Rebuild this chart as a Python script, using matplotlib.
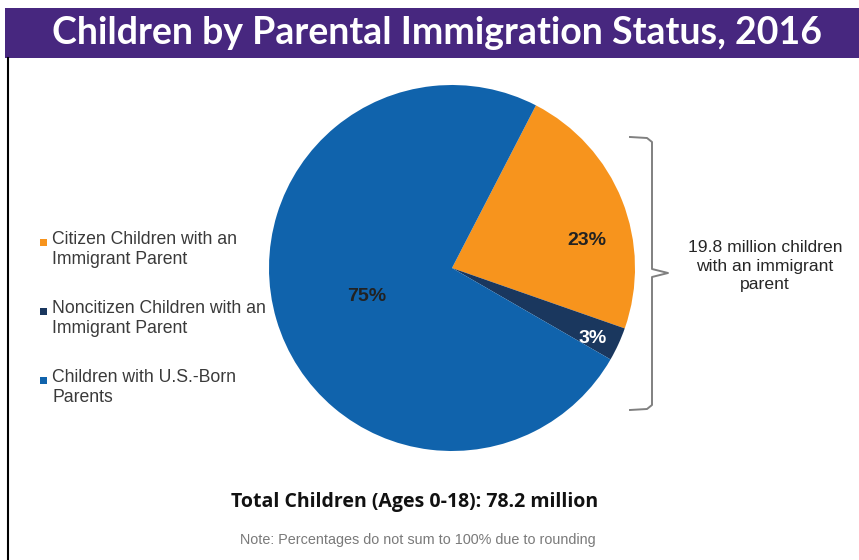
import matplotlib.pyplot as plt
from matplotlib.patches import Rectangle
from matplotlib.lines import Line2D
import numpy as np

# data
labels = ["Citizen Children with an\nImmigrant Parent",
          "Noncitizen Children with an\nImmigrant Parent",
          "Children with U.S.-Born\nParents"]
shares = [23, 3, 75]
colors = ["#F7941D", "#1A375E", "#1063AC"]
pct_colors = ["#222222", "white", "#222222"]

title = "Children by Parental Immigration Status, 2016"
bracket_note = "19.8 million children\nwith an immigrant\nparent"
total_note = "Total Children (Ages 0-18): 78.2 million"
foot_note = "Note: Percentages do not sum to 100% due to rounding"

W, H = 859, 560


def fx(x):
    return x / W


def fy(y):
    return 1 - y / H


fig = plt.figure(figsize=(W / 100, H / 100), dpi=100)
fig.patch.set_facecolor("white")

# title bar
fig.patches.append(Rectangle((fx(5), fy(58)), 1, 50 / H, transform=fig.transFigure,
                             facecolor="#47277F", edgecolor="none"))
fig.text(fx(437), fy(33), title, color="white", fontsize=27, fontweight="bold",
         family="Lato", ha="center", va="center")
# left frame line
fig.add_artist(Line2D([fx(8), fx(8)], [fy(58), 0], transform=fig.transFigure,
                      color="black", lw=1.5))

# pie
cx, cy, r = 452, 268, 183
ax = fig.add_axes([fx(cx - r), fy(cy + r), 2 * r / W, 2 * r / H])
wedges, _ = ax.pie(shares, colors=colors, startangle=62.7, counterclock=False,
                   radius=1.0, wedgeprops=dict(linewidth=0))
ax.set_xlim(-1, 1)
ax.set_ylim(-1, 1)
ax.set_aspect("auto")
ax.axis("off")

pct_r = [0.75, 0.86, 0.49]
pct_shift = [-10, -2, 2]
for w, v, c, pr, sh in zip(wedges, shares, pct_colors, pct_r, pct_shift):
    ang = np.deg2rad((w.theta1 + w.theta2) / 2 + sh)
    ax.text(pr * np.cos(ang), pr * np.sin(ang), f"{v}%", color=c, fontsize=14,
            fontweight="bold", family="Liberation Sans", ha="center", va="center")

# legend, drawn by hand
leg_y = [242, 311, 380]
for lab, c, y in zip(labels, colors, leg_y):
    fig.patches.append(Rectangle((fx(40), fy(y + 4)), 7 / W, 7 / H,
                                 transform=fig.transFigure, facecolor=c,
                                 edgecolor="none"))
    fig.text(fx(52), fy(y - 11), lab, color="#3A3A3A", fontsize=12.7,
             family="Liberation Sans", ha="left", va="top", linespacing=1.25)

# bracket
bx = [630, 647, 652, 652, 668, 652, 652, 647, 630]
by = [137, 138, 142, 269, 273, 277, 405, 409, 410]
fig.add_artist(Line2D([fx(x) for x in bx], [fy(y) for y in by],
                      transform=fig.transFigure, color="#808080", lw=1.4))
fig.text(fx(765), fy(266), bracket_note, color="#262626", fontsize=12.6,
         family="Liberation Sans", ha="center", va="center", linespacing=1.25)

fig.text(fx(415), fy(502), total_note, color="#111111", fontsize=14,
         fontweight="bold", family="Open Sans", ha="center", va="center")
fig.text(fx(418), fy(540), foot_note, color="#7A7A7A", fontsize=10.4,
         family="Liberation Sans", ha="center", va="center")

fig.savefig("out.png", dpi=100, facecolor="white")
